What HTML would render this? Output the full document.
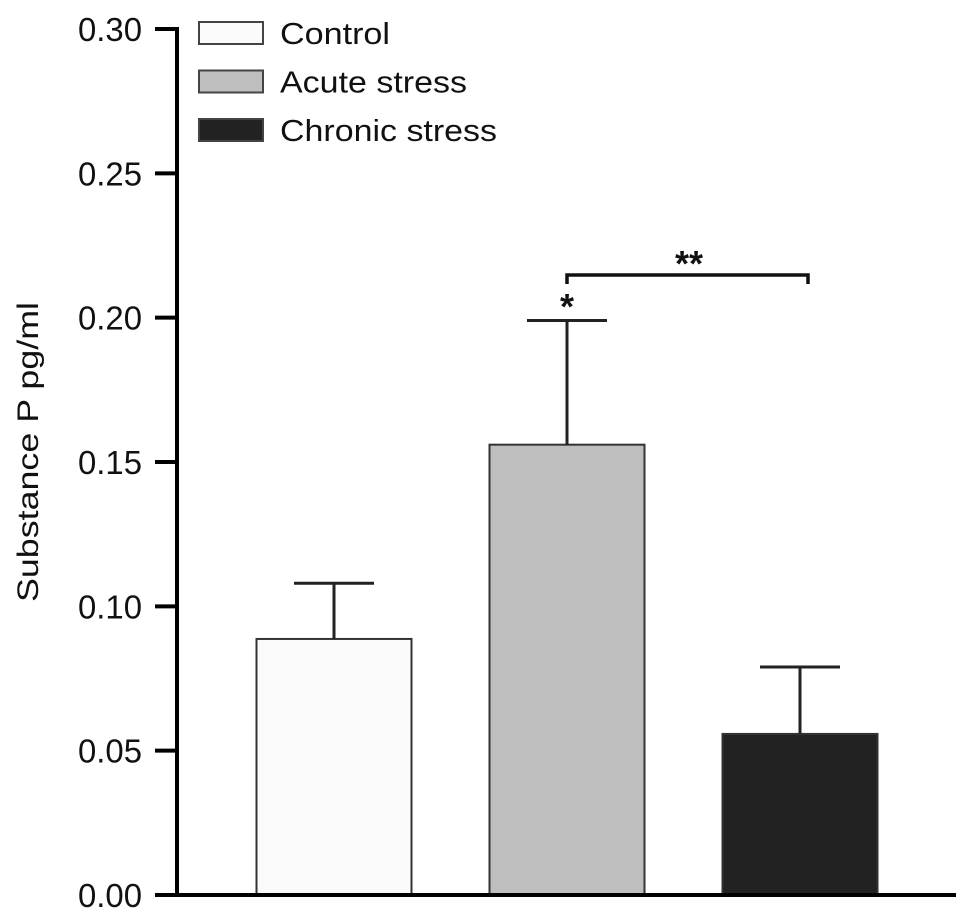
<!DOCTYPE html>
<html><head><meta charset="utf-8"><style>
body{margin:0;background:#fff}
svg{display:block;font-family:"Liberation Sans",Arial,sans-serif}
</style></head><body>
<svg id="chart" width="969" height="924" viewBox="0 0 969 924" xmlns="http://www.w3.org/2000/svg"></svg>
<script>
const categories = ["Control", "Acute stress", "Chronic stress"];
const means = [0.0887, 0.156, 0.0558];
const errors = [0.0193, 0.043, 0.0232];
const fills = ["#fbfbfb", "#bebebe", "#222222"];
const yTicks = [0, 0.05, 0.10, 0.15, 0.20, 0.25, 0.30];
const yTickLabels = ["0.00", "0.05", "0.10", "0.15", "0.20", "0.25", "0.30"];

const svg = document.getElementById('chart');
const NS = 'http://www.w3.org/2000/svg';
const x0 = 177, yBase = 895, yTop = 29, yMax = 0.30;
const y = v => yBase - v / yMax * (yBase - yTop);
const barW = 155, firstCenter = 334, step = 233;
const xc = i => firstCenter + i * step;
function el(tag, attrs, text) {
  const e = document.createElementNS(NS, tag);
  for (const k in attrs) e.setAttribute(k, attrs[k]);
  if (text !== undefined) e.textContent = text;
  svg.appendChild(e);
  return e;
}
categories.forEach((c, i) => {
  const b = el('rect', {x: xc(i) - barW / 2, y: y(means[i]), width: barW, height: yBase - y(means[i]), fill: fills[i], stroke: '#333', 'stroke-width': 2});
  
  
  const top = y(means[i] + errors[i]);
  const e1 = el('line', {x1: xc(i), x2: xc(i), y1: y(means[i]), y2: top, stroke: '#222', 'stroke-width': 3});
  
  
  const e2 = el('line', {x1: xc(i) - 40, x2: xc(i) + 40, y1: top, y2: top, stroke: '#222', 'stroke-width': 3});
  
  
});
const ya = el('line', {x1: x0, x2: x0, y1: yTop - 2, y2: yBase + 2, stroke: '#000', 'stroke-width': 4});


const xa = el('line', {x1: x0 - 2, x2: 956, y1: yBase, y2: yBase, stroke: '#000', 'stroke-width': 4});


yTicks.forEach((t, i) => {
  const tk = el('line', {x1: 155, x2: x0, y1: y(t), y2: y(t), stroke: '#000', 'stroke-width': 4});
  
  
  const lb = el('text', {x: 142, y: y(t) + 12, 'text-anchor': 'end', 'font-size': 33, fill: '#111', textLength: 64, lengthAdjust: 'spacingAndGlyphs'}, yTickLabels[i]);
  
  
});
const yt = el('text', {x: 0, y: 0, transform: 'translate(38,452) rotate(-90)', 'text-anchor': 'middle', 'font-size': 30, fill: '#111', textLength: 300, lengthAdjust: 'spacingAndGlyphs'}, 'Substance P pg/ml');


const br = el('path', {d: 'M567 284 V275 H808 V284', fill: 'none', stroke: '#111', 'stroke-width': 3.5});


const s2 = el('text', {x: 689, y: 276, 'text-anchor': 'middle', 'font-size': 36, 'font-weight': 'bold', fill: '#111'}, '**');


const s1 = el('text', {x: 567, y: 319, 'text-anchor': 'middle', 'font-size': 36, 'font-weight': 'bold', fill: '#111'}, '*');


const legendWidths = [110, 187, 217];
categories.forEach((c, i) => {
  const ly = 22 + i * 48.5;
  const lr = el('rect', {x: 199, y: ly, width: 64, height: 22, fill: fills[i], stroke: '#444', 'stroke-width': 2});
  
  
  const lt = el('text', {x: 280, y: ly + 22, 'font-size': 31, fill: '#111', textLength: legendWidths[i], lengthAdjust: 'spacingAndGlyphs'}, c);
  
  
});
</script>
</body></html>
